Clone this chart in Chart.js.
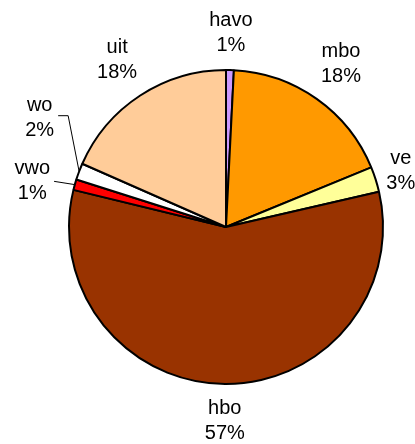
<!DOCTYPE html>
<html>
<head>
<meta charset="utf-8">
<script src="https://cdn.jsdelivr.net/npm/chart.js@4.4.1/dist/chart.umd.min.js"></script>
<style>
  html, body { margin: 0; padding: 0; background: #fff; }
  #wrap { width: 415px; height: 444px; }
</style>
</head>
<body>
<div id="wrap"><canvas id="pie"></canvas></div>
<script>
// data (slice shares in %)
const categories = ['havo', 'mbo', 've', 'hbo', 'vwo', 'wo', 'uit'];
const shares = [0.8, 18.0, 2.6, 57.4, 1.1, 1.7, 18.4];
const sliceColors = ['#CC99FF', '#FF9900', '#FFFF99', '#993300', '#FF0000', '#FFFFFF', '#FFCC99'];

// labels that Excel pulled out with a leader line: angle shift (deg) and distance from the edge
const pulledLabels = {
  vwo: { shift: -2.4, gap: 42, leader: 'straight' },
  wo: { shift: 9.7, gap: 59, leader: 'elbow' }
};

const labelFont = '20px "Liberation Sans", Arial, sans-serif';
const lineH = 25;

const pieLabels = {
  id: 'pieLabels',
  afterDraw(chart) {
    const ctx = chart.ctx;
    const meta = chart.getDatasetMeta(0);
    const total = shares.reduce((a, b) => a + b, 0);
    ctx.save();
    ctx.font = labelFont;
    ctx.fillStyle = '#000';
    ctx.textAlign = 'center';
    ctx.textBaseline = 'middle';
    meta.data.forEach((arc, i) => {
      const { x, y, startAngle, endAngle, outerRadius } = arc.getProps(['x', 'y', 'startAngle', 'endAngle', 'outerRadius'], true);
      const name = categories[i];
      const pct = Math.round(shares[i] / total * 100) + '%';
      const w = Math.max(ctx.measureText(name).width, ctx.measureText(pct).width);
      const h = lineH * 2;
      const mid = (startAngle + endAngle) / 2;
      const pulled = pulledLabels[name];
      let lx, ly;
      if (pulled) {
        const a = mid + pulled.shift * Math.PI / 180;
        const d = outerRadius + pulled.gap;
        lx = x + Math.cos(a) * d;
        ly = y + Math.sin(a) * d;
        const ex = x + Math.cos(mid) * outerRadius;
        const ey = y + Math.sin(mid) * outerRadius;
        ctx.strokeStyle = '#000';
        ctx.lineWidth = 1;
        ctx.beginPath();
        if (pulled.leader === 'straight') {
          ctx.moveTo(lx + w / 2 + 4, ly);
          ctx.lineTo(ex, ey);
        } else {
          const sx = lx + w / 2 + 4;
          const sy = ly - 2;
          ctx.moveTo(sx, sy);
          ctx.lineTo(sx + 10, sy);
          ctx.lineTo(ex, ey);
        }
        ctx.stroke();
      } else {
        const c = Math.abs(Math.cos(mid)), s = Math.abs(Math.sin(mid));
        const extent = c * w / 2 + s * h / 2;
        const d = outerRadius + 2 + 10 * s + extent;
        lx = x + Math.cos(mid) * d;
        ly = y + Math.sin(mid) * d;
      }
      ctx.fillText(name, lx, ly - lineH / 2);
      ctx.fillText(pct, lx, ly + lineH / 2);
    });
    ctx.restore();
  }
};

new Chart(document.getElementById('pie'), {
  type: 'pie',
  data: {
    labels: categories,
    datasets: [{
      data: shares,
      backgroundColor: sliceColors,
      borderColor: '#000',
      borderWidth: 2
    }]
  },
  options: {
    responsive: true,
    maintainAspectRatio: false,
    animation: false,
    layout: {
      padding: { top: 69, right: 31, bottom: 59, left: 68 }
    },
    plugins: {
      legend: { display: false },
      tooltip: { enabled: false }
    }
  },
  plugins: [pieLabels]
});
</script>
</body>
</html>
